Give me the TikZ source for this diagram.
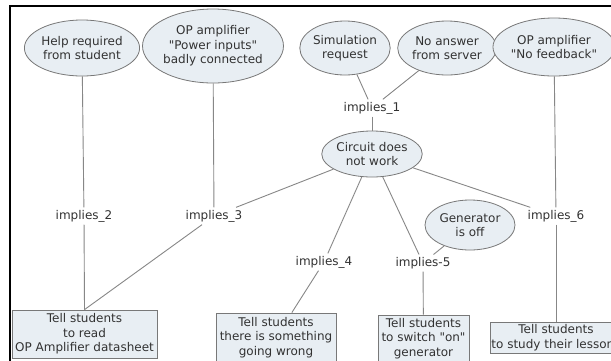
\documentclass[tikz,border=0pt]{standalone}
\usepackage{fontspec}
\setmainfont{DejaVu Sans}[Ligatures=TeXOff]
\usetikzlibrary{shapes.geometric}
\definecolor{nodefill}{RGB}{232,238,243}
\definecolor{nodeline}{RGB}{120,120,120}
\definecolor{linkcol}{RGB}{135,135,135}
\definecolor{txt}{RGB}{50,50,50}
\tikzset{
  lbl/.style={text=txt, font=\fontsize{12}{14.5}\selectfont},
  concept/.style={lbl, ellipse, draw=nodeline, fill=nodefill, line width=0.8pt,
    inner sep=0pt, align=center},
  action/.style={lbl, rectangle, draw=nodeline, fill=nodefill, line width=0.8pt,
    inner sep=0pt, align=center},
  rel/.style={lbl, inner sep=2.5pt},
  link/.style={draw=linkcol, line width=0.9pt},
}
\begin{document}
\begin{tikzpicture}[x=1pt,y=-1pt]
\useasboundingbox (0,0) rectangle (611,360);
\clip (0,0) rectangle (611,360);
\fill[white] (0,0) rectangle (611,360);

% concepts
\node[concept, minimum width=100, minimum height=56] (help) at (82,48) {Help required\\from student};
\node[concept, minimum width=130, minimum height=74] (power) at (213,46) {OP amplifier\\"Power inputs"\\badly connected};
\node[concept, minimum width=84, minimum height=54] (sim) at (345,48) {Simulation\\request};
\node[concept, minimum width=92, minimum height=54] (noans) at (447,48) {No answer\\from server};
\node[concept, minimum width=112, minimum height=58] (nofb) at (554,47) {OP amplifier\\"No feedback"};
\node[concept, minimum width=94, minimum height=46] (circ) at (372,154) {Circuit does\\not work};
\node[concept, minimum width=90, minimum height=50] (gen) at (470,225) {Generator\\is off};

% relations
\node[rel] (i1) at (372,108) {implies\_1};
\node[rel] (i2) at (84,216) {implies\_2};
\node[rel] (i3) at (214,216) {implies\_3};
\node[rel] (i4) at (324,262) {implies\_4};
\node[rel] (i5) at (423,263) {implies-5};
\node[rel] (i6) at (556,216) {implies\_6};

% actions
\node[action, minimum width=145, minimum height=48] (a1) at (84.5,334) {Tell students\\to read\\OP Amplifier datasheet};
\node[action, minimum width=120, minimum height=49] (a2) at (276,337.5) {Tell students\\there is something\\going wrong};
\node[action, minimum width=91, minimum height=47] (a3) at (423.5,338.5) {Tell students\\to switch "on"\\generator};
\node[action, minimum width=132, minimum height=31] (a4) at (556,337.5) {Tell students\\to study their lessons};

% connectors
\draw[link] (sim) -- (i1);
\draw[link] (noans) -- (i1);
\draw[link] (i1) -- (circ);
\draw[link] (help) -- (i2);
\draw[link] (i2) -- (a1.north);
\draw[link] (power) -- (i3);
\draw[link] (circ) -- (i3);
\draw[link] (i3) -- (a1.north);
\draw[link] (circ) -- (i4);
\draw[link] (i4) -- (a2);
\draw[link] (circ) -- (i5);
\draw[link] (gen) -- (i5);
\draw[link] (i5) -- (a3);
\draw[link] (nofb) -- (i6);
\draw[link] (circ) -- (i6);
\draw[link] (i6) -- (a4);

% frame
\draw[black, line width=2.5pt] (10,362) -- (10,6) -- (613,6);
\end{tikzpicture}
\end{document}
